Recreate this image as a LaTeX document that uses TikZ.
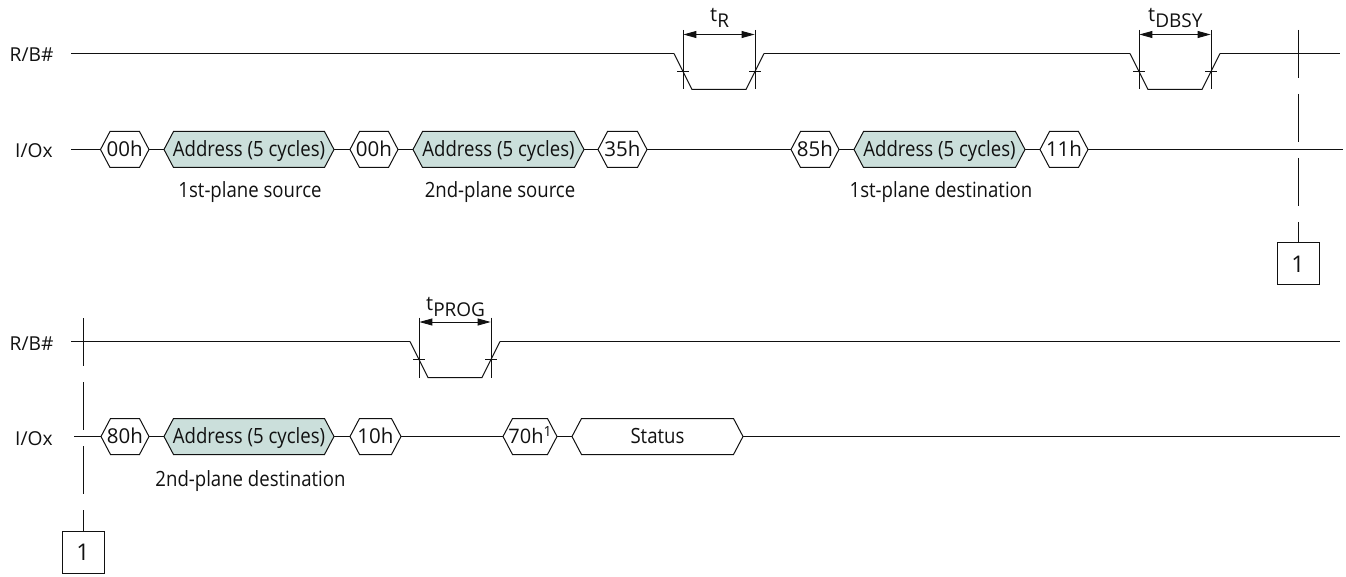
\documentclass[tikz,border=0pt]{standalone}
\usepackage{fontspec}
\setmainfont{Open Sans}
\newfontfamily\narrowsans[FakeStretch=0.885]{Open Sans}
\usetikzlibrary{arrows.meta}
\definecolor{addrfill}{HTML}{CBDFDB}
\definecolor{ink}{HTML}{111111}
\newcommand{\hexsig}[7]{% name, left, right, centre y, fill, text, font size
  \path[draw=ink,line width=1pt,fill=#5,line join=miter]
    (#2,#4) -- (#2+9.5,#4-18) -- (#3-9.5,#4-18) -- (#3,#4) -- (#3-9.5,#4+18) -- (#2+9.5,#4+18) -- cycle;
  \node[siglabel,font=\fontsize{#7}{24}\selectfont] (#1) at ({(#2+#3)/2},#4+7) {#6};
}
\newcommand{\pulse}[5]{% x0, top y, low y, arrow y, tick y
  \draw[wave] (#1,#2) -- (#1+18,#3) -- (#1+72,#3) -- (#1+90,#2);
  \draw[guide] (#1+9,#4-4.5) -- (#1+9,#3);
  \draw[guide] (#1+81,#4-4.5) -- (#1+81,#3);
  \draw[guide] (#1+3,#5) -- (#1+15,#5);
  \draw[guide] (#1+75,#5) -- (#1+87,#5);
  \draw[guide,{Triangle[length=13pt,width=7pt]}-{Triangle[length=13pt,width=7pt]},shorten <=0.4pt,shorten >=0.4pt] (#1+9,#4) -- (#1+81,#4);
}
\newcommand{\timing}[2]{\fontsize{20}{24}\selectfont #1\raisebox{-6pt}{\fontsize{19}{24}\selectfont #2}}
\newcommand{\addrtext}{\narrowsans Address (5 cycles)}
\tikzset{
  x=1pt,y=-1pt,
  wave/.style={draw=ink,line width=1pt},
  guide/.style={draw=ink,line width=0.85pt},
  siglabel/.style={inner sep=0pt,anchor=base,text=ink},
  plain/.style={inner sep=0pt,anchor=base,text=ink,font=\fontsize{19.2}{24}\selectfont},
  caption/.style={inner sep=0pt,anchor=base,text=ink,font=\narrowsans\fontsize{21}{24}\selectfont},
  refbox/.style={draw=ink,line width=1pt,minimum width=42pt,minimum height=42pt,inner sep=0pt,text=ink,font=\fontsize{23}{27}\selectfont},
  subs/.style={inner sep=0pt,anchor=base west,text=ink}
}
\begin{document}
\begin{tikzpicture}
\useasboundingbox (0,0) rectangle (1346,577);
% row labels
\node[plain,anchor=base west] (rb1) at (9.5,62) {R/B\#};
\node[plain,anchor=base west] (io1) at (15,158) {I/Ox};
\node[plain,anchor=base west] (rb2) at (9.5,350) {R/B\#};
\node[plain,anchor=base west] (io2) at (15,445.5) {I/Ox};
% R/B# row 1
\coordinate (r1s) at (71,53.5);
\coordinate (r1e) at (1340,53.5);
\draw[wave] (r1s) -- (674,53.5);
\pulse{674}{53.5}{89.5}{34.5}{71.5}
\draw[wave] (764,53.5) -- (1130,53.5);
\pulse{1130}{53.5}{89.5}{34.5}{71.5}
\draw[wave] (1220,53.5) -- (r1e);
\node[subs] (tr) at (710,22) {\timing{t}{R}};
\node[subs] (tdbsy) at (1148,22) {\timing{t}{DBSY}};
% I/O row 1
\coordinate (i1s) at (71,149.5);
\coordinate (i1e) at (1343,149.5);
\draw[wave] (i1s) -- (i1e);
\hexsig{h1}{100.5}{149}{149.5}{white}{00h}{20.5}
\hexsig{h2}{164}{334}{149.5}{addrfill}{\addrtext}{21}
\hexsig{h3}{350}{398}{149.5}{white}{00h}{20.5}
\hexsig{h4}{413}{584}{149.5}{addrfill}{\addrtext}{21}
\hexsig{h5}{598}{647}{149.5}{white}{35h}{20.5}
\hexsig{h6}{791}{839}{149.5}{white}{85h}{20.5}
\hexsig{h7}{854}{1025}{149.5}{addrfill}{\addrtext}{21}
\hexsig{h8}{1040}{1088}{149.5}{white}{11h}{20.5}
\node[caption] (c1) at (250,198) {1st-plane source};
\node[caption] (c2) at (500,198) {2nd-plane source};
\node[caption] (c3) at (941,198) {1st-plane destination};
% off-page 1
\node[refbox] (box1) at (1298,264) {1};
\coordinate (v1t) at (1298,30);
\draw[guide,dash pattern=on 48pt off 16pt] (v1t) -- (box1.north);
% R/B# row 2
\coordinate (r2s) at (71,341.5);
\coordinate (r2e) at (1340,341.5);
\draw[wave] (r2s) -- (410,341.5);
\pulse{410}{341.5}{377.5}{322}{359.5}
\draw[wave] (500,341.5) -- (r2e);
\node[subs] (tp) at (426,310) {\timing{t}{PROG}};
% I/O row 2
\coordinate (i2s) at (74,436);
\coordinate (i2e) at (1340,436);
\draw[wave] (i2s) -- (i2e);
\hexsig{k1}{101}{149}{436.5}{white}{80h}{20.5}
\hexsig{k2}{164}{334}{436.5}{addrfill}{\addrtext}{21}
\hexsig{k3}{350}{401}{436.5}{white}{10h}{20.5}
\hexsig{k4}{503}{557}{436.5}{white}{70h\raisebox{7pt}{\fontsize{14}{16}\selectfont 1}}{20}
\hexsig{k5}{572}{743}{436.5}{white}{\narrowsans Status}{21}
\node[caption] (c4) at (250.5,486) {2nd-plane destination};
% off-page 2
\node[refbox] (box2) at (83,552) {1};
\coordinate (v2t) at (83,318);
\draw[guide,dash pattern=on 48pt off 16pt] (v2t) -- (box2.north);
\end{tikzpicture}
\end{document}
